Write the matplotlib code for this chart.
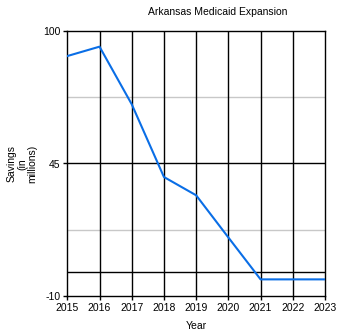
import matplotlib
matplotlib.use("Agg")
import matplotlib.pyplot as plt

years = [2015, 2016, 2017, 2018, 2019, 2020, 2021, 2022, 2023]
savings = [89.6, 93.5, 69.6, 39.4, 31.8, 14.3, -3.1, -3.1, -3.1]
y_ticks = [-10, 45, 100]
y_minor = [17.5, 72.5]

plt.rcParams['font.family'] = ['Liberation Sans', 'DejaVu Sans']

fig = plt.figure(figsize=(3.5, 3.35), dpi=100)
ax = fig.add_axes([67.3/350, (335-296)/335, (325-67.3)/350, (296-31)/335])

ax.set_xlim(years[0], years[-1])
ax.set_ylim(y_ticks[0], y_ticks[-1])

for y in y_minor:
    ax.axhline(y, color='#c8c8c8', lw=1.0, zorder=1)
ax.axhline(45, color='black', lw=1.0, zorder=1)
ax.axhline(0, color='black', lw=1.0, zorder=1)
for x in years[1:-1]:
    ax.axvline(x, color='black', lw=1.0, zorder=1)

ax.plot(years, savings, color='#0a6ee6', lw=1.5, zorder=3)

ax.set_xticks(years)
ax.set_xticklabels([str(y) for y in years], fontsize=7.5)
ax.set_yticks(y_ticks)
ax.set_yticklabels([str(y) for y in y_ticks], fontsize=7.5)
ax.tick_params(axis='both', length=3, width=1, pad=2, color='black')
for s in ax.spines.values():
    s.set_color('black')
    s.set_linewidth(1.0)

ax.set_xlabel('Year', fontsize=7.5, labelpad=6)
fig.text(22/350, 1 - 164/335, 'Savings\n(in\nmillions)', rotation=90,
         ha='center', va='center', fontsize=7.5, multialignment='center',
         linespacing=1.0)
fig.text(218/350, 1 - 12/335, 'Arkansas Medicaid Expansion', ha='center',
         va='center', fontsize=7.5)

fig.savefig('out.png', dpi=100)
